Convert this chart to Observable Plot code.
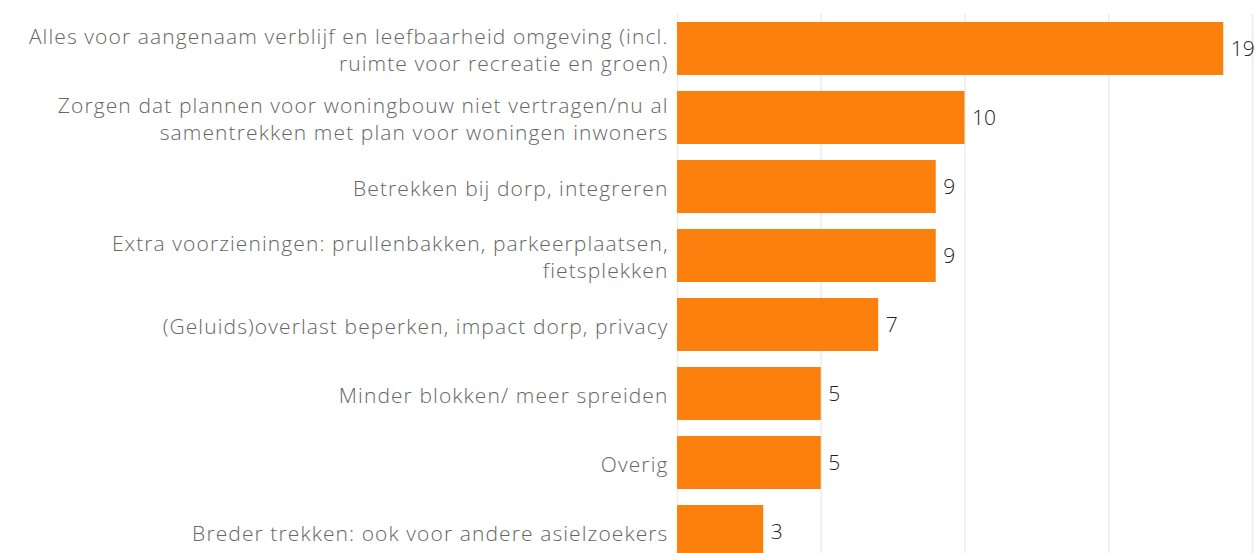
<!DOCTYPE html>
<html><head><meta charset="utf-8">
<script src="https://cdn.jsdelivr.net/npm/d3@7"></script>
<script src="https://cdn.jsdelivr.net/npm/@observablehq/plot@0.6"></script>
<style>
html,body{margin:0;padding:0;background:#fff;overflow:hidden;}
#chart{width:1259px;height:553px;overflow:hidden;}
g[aria-label="y-axis tick label"] text{letter-spacing:1.1px;}
</style></head>
<body><div id="chart"></div>
<script>
const categories = [
  "Alles voor aangenaam verblijf en leefbaarheid omgeving (incl.\nruimte voor recreatie en groen)",
  "Zorgen dat plannen voor woningbouw niet vertragen/nu al\nsamentrekken met plan voor woningen inwoners",
  "Betrekken bij dorp, integreren",
  "Extra voorzieningen: prullenbakken, parkeerplaatsen,\nfietsplekken",
  "(Geluids)overlast beperken, impact dorp, privacy",
  "Minder blokken/ meer spreiden",
  "Overig",
  "Breder trekken: ook voor andere asielzoekers"
];
const values = [19, 10, 9, 9, 7, 5, 5, 3];
const gridTicks = [0, 5, 10, 15, 20];

const data = categories.map((c, i) => ({cat: c, value: values[i]}));

const chart = Plot.plot({
  width: 1259,
  height: 566,
  marginLeft: 677,
  marginRight: 7,
  marginTop: 14,
  marginBottom: 0,
  style: {fontFamily: "'Open Sans', sans-serif", background: "#fff"},
  x: {domain: [0, 20], axis: null},
  y: {domain: categories, paddingInner: 0.232, paddingOuter: 0.116, axis: null},
  marks: [
    Plot.ruleX(gridTicks, {stroke: "#ececec", strokeWidth: 1.5}),
    Plot.barX(data, {x: "value", y: "cat", fill: "#fb800e"}),
    Plot.text(data, {x: "value", y: "cat", text: d => String(d.value), textAnchor: "start", dx: 7, fontSize: 21, fontWeight: 300, fill: "#222"}),
    Plot.axisY({label: null, tickSize: 0, tickPadding: 9, fontSize: 21, fontWeight: 300, color: "#666", lineHeight: 1.28, textAnchor: "end"})
  ]
});
document.getElementById("chart").appendChild(chart);
</script>
</body></html>
